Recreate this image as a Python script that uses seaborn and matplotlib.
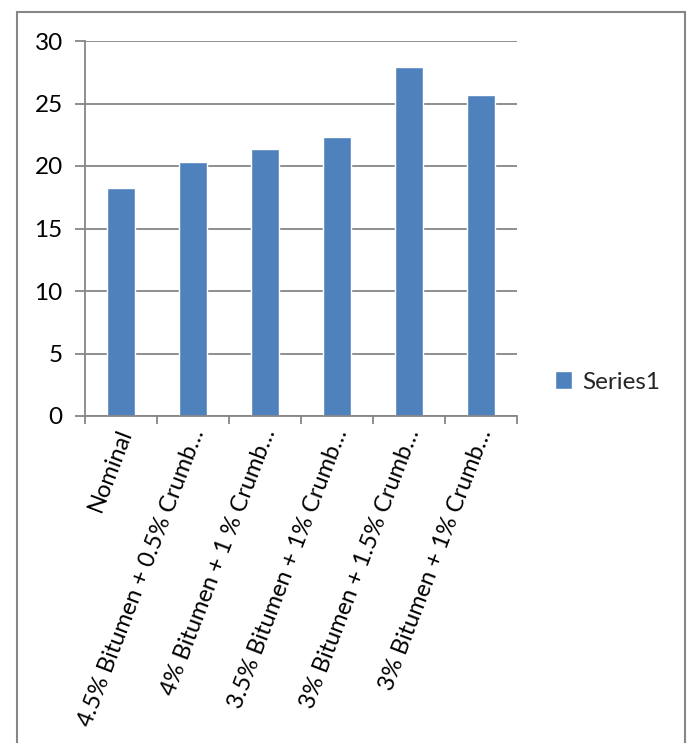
import numpy as np
import pandas as pd
import matplotlib
matplotlib.use("Agg")
import matplotlib.pyplot as plt
import matplotlib.transforms as mtrans
import seaborn as sns
from matplotlib.patches import Rectangle

categories = [
    "Nominal",
    "4.5% Bitumen + 0.5% Crumb…",
    "4% Bitumen + 1 % Crumb…",
    "3.5% Bitumen + 1% Crumb…",
    "3% Bitumen + 1.5% Crumb…",
    "3% Bitumen + 1% Crumb…",
]
values = [18.25, 20.3, 21.4, 22.35, 27.9, 25.7]
series_name = "Series1"
y_ticks = [0, 5, 10, 15, 20, 25, 30]

sns.set_style("white")
plt.rcParams['font.family'] = ['Lato', 'DejaVu Sans']

W, H = 688, 743
fig = plt.figure(figsize=(W / 100, H / 100), dpi=100)
ax = fig.add_axes([85 / W, (H - 416) / H, (517 - 85) / W, 375 / H])

df = pd.DataFrame({"cat": categories, "val": values})
sns.barplot(data=df, x="cat", y="val", color="#4F81BD", saturation=1,
            width=0.4, ax=ax, label=series_name)

grid_c = "#868686"
ax.set_ylim(0, 30)
ax.set_xlim(-0.5, len(categories) - 0.5)
ax.set_yticks(y_ticks)
ax.yaxis.grid(True, color=grid_c, linewidth=1.3)
ax.set_axisbelow(True)
for s in ["top", "right"]:
    ax.spines[s].set_visible(False)
for s in ["left", "bottom"]:
    ax.spines[s].set_color(grid_c)
    ax.spines[s].set_linewidth(1.3)

ax.set_xlabel("")
ax.set_ylabel("")
ax.tick_params(axis="y", length=7, width=1.3, color=grid_c, pad=9,
               labelsize=17.5, labelcolor="black", left=True)
ax.set_xticks(np.arange(-0.5, len(categories), 1), minor=True)
ax.tick_params(axis="x", which="minor", length=6, width=1.3, color=grid_c, bottom=True)
ax.tick_params(axis="x", which="major", length=0, pad=10, labelsize=17,
               labelcolor="black")
ax.set_xticks(range(len(categories)))
ax.set_xticklabels(categories, rotation=69, ha="right", va="center",
                   rotation_mode="anchor")
shift = mtrans.ScaledTranslation(5 / 100, 0, fig.dpi_scale_trans)
for lab in ax.get_xticklabels():
    lab.set_transform(lab.get_transform() + shift)

leg = ax.legend(loc="center left", bbox_to_anchor=(555 / W, (H - 382) / H),
                bbox_transform=fig.transFigure, frameon=False, fontsize=17.5,
                handlelength=0.7, handleheight=0.7, handletextpad=0.4,
                borderpad=0, borderaxespad=0)

fig.patches.append(Rectangle((16.5 / W, -0.05), (685 - 16.5) / W, (H - 11.7) / H + 0.05,
                             transform=fig.transFigure, fill=False,
                             edgecolor=grid_c, linewidth=1.5, zorder=10))

fig.savefig("out.png", dpi=100)
